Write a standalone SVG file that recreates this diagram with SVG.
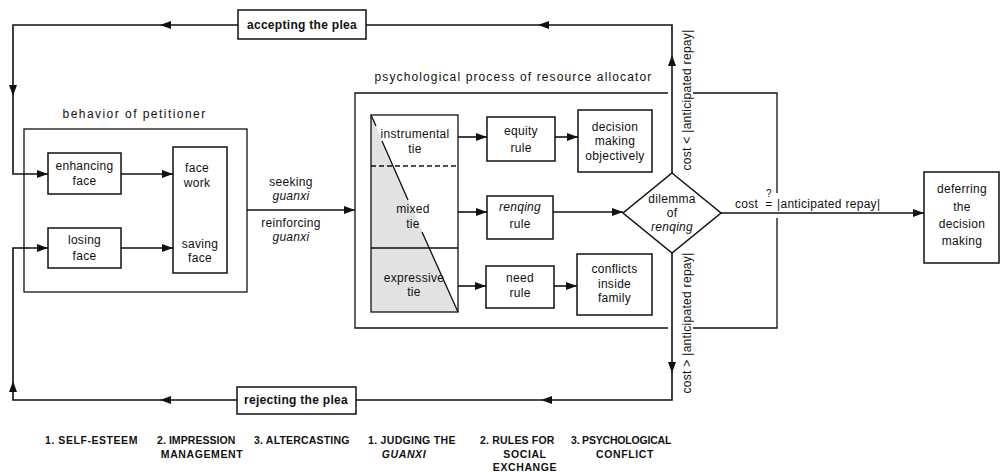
<svg xmlns="http://www.w3.org/2000/svg" xmlns:xlink="http://www.w3.org/1999/xlink" width="1000" height="472" viewBox="0 0 1000 472">
<style>
  text{font-family:"Liberation Sans","DejaVu Sans",Arial,sans-serif;font-size:12px;fill:#111;text-anchor:middle;letter-spacing:0.3px}
  .b{fill:#fff;stroke:#111;stroke-width:1.5}
  .ln{fill:none;stroke:#111;stroke-width:1.6}
  .thin{fill:none;stroke:#111;stroke-width:1.3}
  .it{font-style:italic}
  .bold{font-weight:bold}
  .cap{font-size:10.5px;font-weight:bold;text-anchor:start;letter-spacing:0.6px}
  .capm{font-size:10.5px;font-weight:bold;letter-spacing:0.6px}
</style>
<defs>
  <path id="ah" d="M0,0 L-11,-4 L-11,4 Z" fill="#111"/>
</defs>
<rect width="1000" height="472" fill="#fff"/>

<!-- connectors -->
<g id="connectors">
  <!-- accepting loop -->
  <path class="ln" d="M672,173 V25 H366"/>
  <path class="ln" d="M238,25 H13 V174 H48"/>
  <use xlink:href="#ah" transform="translate(672,55) rotate(-90)"/>
  <use xlink:href="#ah" transform="translate(538,25) rotate(180)"/>
  <use xlink:href="#ah" transform="translate(160,25) rotate(180)"/>
  <use xlink:href="#ah" transform="translate(13,96) rotate(90)"/>
  <use xlink:href="#ah" transform="translate(48,174)"/>
  <!-- rejecting loop -->
  <path class="ln" d="M672,253 V400 H356"/>
  <path class="ln" d="M237,400 H13 V248 H48"/>
  <use xlink:href="#ah" transform="translate(672,373) rotate(90)"/>
  <use xlink:href="#ah" transform="translate(541,400) rotate(180)"/>
  <use xlink:href="#ah" transform="translate(160,400) rotate(180)"/>
  <use xlink:href="#ah" transform="translate(13,381) rotate(-90)"/>
  <use xlink:href="#ah" transform="translate(48,248)"/>
  <!-- face -->
  <path class="ln" d="M121,174 H173"/>
  <use xlink:href="#ah" transform="translate(173,174)"/>
  <path class="ln" d="M121,248 H173"/>
  <use xlink:href="#ah" transform="translate(173,248)"/>
  <!-- seeking guanxi -->
  <path class="ln" d="M247,210 H355"/>
  <use xlink:href="#ah" transform="translate(355,210)"/>
  <!-- ties to rules -->
  <path class="ln" d="M458,137 H487"/>
  <use xlink:href="#ah" transform="translate(487,137)"/>
  <path class="ln" d="M555,137 H578"/>
  <use xlink:href="#ah" transform="translate(578,137)"/>
  <path class="ln" d="M458,212 H487"/>
  <use xlink:href="#ah" transform="translate(487,212)"/>
  <path class="ln" d="M553,212 H623"/>
  <use xlink:href="#ah" transform="translate(623,212)"/>
  <path class="ln" d="M458,286 H486"/>
  <use xlink:href="#ah" transform="translate(486,286)"/>
  <path class="ln" d="M554,286 H577"/>
  <use xlink:href="#ah" transform="translate(577,286)"/>
  <!-- to deferring -->
  <path class="ln" d="M721,213 H924"/>
  <use xlink:href="#ah" transform="translate(924,213)"/>
  <!-- labels -->
  <text transform="translate(691,100) rotate(-90)">cost &lt; |anticipated repay|</text>
  <text transform="translate(691,323) rotate(-90)">cost &gt; |anticipated repay|</text>
  <text x="735" y="208" style="text-anchor:start">cost</text>
  <text x="769" y="208">=</text>
  <text x="769" y="197" style="font-size:10px">?</text>
  <text x="777" y="208" style="text-anchor:start">|anticipated repay|</text>
  <text x="291" y="186">seeking</text>
  <text x="291" y="200" class="it">guanxi</text>
  <text x="291" y="227">reinforcing</text>
  <text x="291" y="241" class="it">guanxi</text>
</g>

<!-- accepting / rejecting -->
<g id="accepting">
  <rect class="b" x="238" y="10" width="128" height="29"/>
  <text x="302" y="29" class="bold">accepting the plea</text>
</g>
<g id="rejecting">
  <rect class="b" x="237" y="387" width="119" height="27"/>
  <text x="296" y="404" class="bold">rejecting the plea</text>
</g>

<!-- behavior of petitioner -->
<g id="petitioner">
  <text x="134" y="118" textLength="143" lengthAdjust="spacing">behavior of petitioner</text>
  <rect class="thin" x="24" y="129" width="223" height="163"/>
</g>
<g id="enhancing">
  <rect class="b" x="48" y="153" width="73" height="41"/>
  <text x="84.5" y="170">enhancing</text>
  <text x="84.5" y="185">face</text>
</g>
<g id="losing">
  <rect class="b" x="48" y="228" width="73" height="40"/>
  <text x="84.5" y="244">losing</text>
  <text x="84.5" y="260">face</text>
</g>
<g id="facework">
  <rect class="b" x="173" y="147" width="54" height="126"/>
  <text x="197" y="172">face</text>
  <text x="197" y="187">work</text>
  <text x="200" y="248">saving</text>
  <text x="200" y="262">face</text>
</g>

<!-- psychological process -->
<g id="process">
  <text x="513" y="81" textLength="277" lengthAdjust="spacing">psychological process of resource allocator</text>
  <path class="thin" d="M668,93 H355 V328 H668 M693,93 H777 V193 M777,218 V328 H693"/>
</g>
<g id="ties">
  <rect x="371" y="115" width="87" height="197" fill="#fff" stroke="none"/>
  <polygon points="371,115 458,312 371,312" fill="#e2e2e2"/>
  <rect class="thin" x="371" y="115" width="87" height="197"/>
  <path class="thin" d="M371,166 H458" stroke-dasharray="5,3"/>
  <path class="thin" d="M371,248 H458"/>
  <path class="thin" d="M371,115 L376,126 M382,141 L408,200 M422,232 L458,312"/>
  <text x="415" y="138">instrumental</text>
  <text x="415" y="153">tie</text>
  <text x="413" y="213">mixed</text>
  <text x="413" y="228">tie</text>
  <text x="414" y="282">expressive</text>
  <text x="414" y="296">tie</text>
</g>
<g id="equity">
  <rect class="b" x="487" y="117" width="68" height="44"/>
  <text x="521" y="135">equity</text>
  <text x="521" y="152">rule</text>
</g>
<g id="decision">
  <rect class="b" x="578" y="110" width="74" height="62"/>
  <text x="615" y="131">decision</text>
  <text x="615" y="145">making</text>
  <text x="615" y="160">objectively</text>
</g>
<g id="renqing">
  <rect class="b" x="487" y="196" width="66" height="43"/>
  <text x="520" y="211" class="it">renqing</text>
  <text x="520" y="228">rule</text>
</g>
<g id="need">
  <rect class="b" x="486" y="266" width="68" height="42"/>
  <text x="520" y="282">need</text>
  <text x="520" y="297">rule</text>
</g>
<g id="conflicts">
  <rect class="b" x="577" y="254" width="75" height="61"/>
  <text x="614.5" y="273">conflicts</text>
  <text x="614.5" y="288">inside</text>
  <text x="614.5" y="302">family</text>
</g>
<g id="dilemma">
  <polygon class="b" points="672,173 721,213 672,253 623,213"/>
  <text x="672" y="203">dilemma</text>
  <text x="672" y="217">of</text>
  <text x="672" y="231" class="it">renqing</text>
</g>
<g id="deferring">
  <rect class="b" x="924" y="172" width="75" height="91"/>
  <text x="962" y="193">deferring</text>
  <text x="962" y="211">the</text>
  <text x="962" y="228">decision</text>
  <text x="962" y="245">making</text>
</g>

<!-- bottom captions -->
<g id="captions">
  <text class="cap" x="45" y="444" textLength="93" lengthAdjust="spacing">1. SELF-ESTEEM</text>
  <text class="cap" x="157" y="444" textLength="79" lengthAdjust="spacing">2. IMPRESSION</text>
  <text class="capm" x="202" y="458">MANAGEMENT</text>
  <text class="cap" x="254" y="444" textLength="96" lengthAdjust="spacing">3. ALTERCASTING</text>
  <text class="cap" x="368" y="444" textLength="88" lengthAdjust="spacing">1. JUDGING THE</text>
  <text class="capm" x="404" y="458" font-style="italic">GUANXI</text>
  <text class="cap" x="480" y="444" textLength="75" lengthAdjust="spacing">2. RULES FOR</text>
  <text class="capm" x="525" y="458">SOCIAL</text>
  <text class="capm" x="525" y="471">EXCHANGE</text>
  <text class="cap" x="571" y="444" textLength="101" lengthAdjust="spacing">3. PSYCHOLOGICAL</text>
  <text class="capm" x="625" y="458">CONFLICT</text>
</g>
</svg>
